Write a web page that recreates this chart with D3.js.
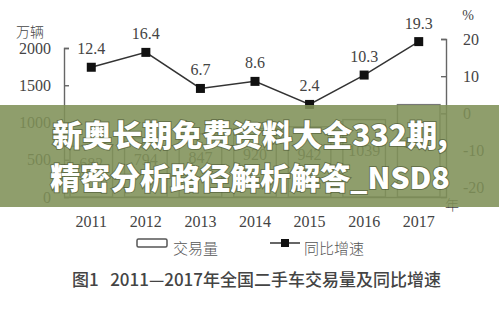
<!DOCTYPE html>
<html>
<head>
<meta charset="utf-8">
<script src="https://cdn.jsdelivr.net/npm/d3@7"></script>
<style>
  body { margin: 0; background: #fff; }
  svg text { font-family: "Liberation Serif", serif; }
  .cjk { font-family: "Noto Sans CJK SC", sans-serif; }
</style>
</head>
<body>
<div id="chart"></div>
<script>
// data
var years = ["2011", "2012", "2013", "2014", "2015", "2016", "2017"];
var volume = [682, 794, 847, 920, 942, 1039, 1240];   // 万辆
var growth = [12.4, 16.4, 6.7, 8.6, 2.4, 10.3, 19.3]; // %
var leftTicks = [0, 500, 1000, 1500, 2000];
var rightTicks = [-20, -10, 0, 10, 20];

var W = 499, H = 314;
var svg = d3.select("#chart").append("svg")
  .attr("width", W).attr("height", H);

var x = d3.scaleBand().domain(years).range([64, 446])
  .paddingInner(0.22).paddingOuter(0.11);
var yL = d3.scaleLinear().domain([0, 2000]).range([197, 48]);
var yR = d3.scaleLinear().domain([-22.5, 20]).range([197, 39]);

var axisColor = "#666";

// bars
svg.selectAll("rect.bar")
  .data(volume)
  .enter()
  .append("rect")
    .attr("class", "bar")
    .attr("x", function(d, i) { return x(years[i]); })
    .attr("y", function(d) { return yL(d); })
    .attr("width", x.bandwidth())
    .attr("height", function(d) { return yL(0) - yL(d); })
    .style("fill", "#fff")
    .style("stroke", "#777")
    .style("stroke-width", 1.4);

svg.selectAll("text.barlab")
  .data(volume)
  .enter()
  .append("text")
    .attr("class", "barlab")
    .attr("x", function(d, i) { return x(years[i]) + x.bandwidth() / 2; })
    .attr("y", function(d) { return yL(d / 2) - 6; })
    .attr("text-anchor", "middle")
    .attr("dominant-baseline", "middle")
    .style("font-size", "16px")
    .style("fill", "#555")
    .text(function(d) { return d; });

// left axis
var gL = svg.append("g").attr("transform", "translate(64,0)")
  .call(d3.axisLeft(yL).tickValues(leftTicks).tickSizeInner(-5).tickSizeOuter(-5).tickPadding(13)
    .tickFormat(function(d) { return String(d); }));
// right axis
var gR = svg.append("g").attr("transform", "translate(446,0)")
  .call(d3.axisRight(yR).tickValues(rightTicks).tickSizeInner(-5).tickSizeOuter(-5).tickPadding(17)
    .tickFormat(function(d) { return String(d); }));
// bottom axis
var gB = svg.append("g").attr("transform", "translate(0,197)")
  .call(d3.axisBottom(x).tickSize(0).tickPadding(19));

[gL, gR, gB].forEach(function(g) {
  g.select(".domain").style("stroke", axisColor).style("stroke-width", 1.4);
  g.selectAll(".tick line").style("stroke", axisColor).style("stroke-width", 1.4);
  g.selectAll(".tick text")
    .style("font-family", "Liberation Serif, serif")
    .style("font-size", "16px")
    .style("fill", "#444");
});
gR.selectAll(".tick text").attr("text-anchor", "start");

// unit labels
svg.append("text").attr("class", "cjk")
  .attr("x", 16).attr("y", 37)
  .style("font-size", "14px").style("font-weight", 300).style("fill", "#444")
  .text("万辆");
svg.append("text")
  .attr("x", 468).attr("y", 20).attr("text-anchor", "middle")
  .style("font-size", "14px").style("fill", "#444")
  .text("%");
svg.append("text").attr("class", "cjk")
  .attr("x", 452).attr("y", 210).attr("text-anchor", "middle")
  .style("font-size", "14px").style("font-weight", 300).style("fill", "#444")
  .text("年");

// growth line
var cx = function(d, i) { return x(years[i]) + x.bandwidth() / 2; };
var line = d3.line()
  .x(function(d, i) { return cx(d, i); })
  .y(function(d) { return yR(d); });

svg.append("path")
  .datum(growth)
  .attr("d", line)
  .style("fill", "none")
  .style("stroke", "#333")
  .style("stroke-width", 1.5);

svg.selectAll("rect.pt")
  .data(growth)
  .enter()
  .append("rect")
    .attr("class", "pt")
    .attr("x", function(d, i) { return cx(d, i) - 4.5; })
    .attr("y", function(d) { return yR(d) - 4.5; })
    .attr("width", 9).attr("height", 9)
    .style("fill", "#111");

svg.selectAll("text.ptlab")
  .data(growth)
  .enter()
  .append("text")
    .attr("class", "ptlab")
    .attr("x", function(d, i) { return cx(d, i); })
    .attr("y", function(d) { return yR(d) - 13; })
    .attr("text-anchor", "middle")
    .style("font-size", "16px")
    .style("fill", "#444")
    .text(function(d) { return d.toFixed(1); });

// legend
svg.append("rect")
  .attr("x", 137).attr("y", 239).attr("width", 30).attr("height", 8).attr("rx", 1.5)
  .style("fill", "#fff").style("stroke", "#555").style("stroke-width", 1.5);
svg.append("text").attr("class", "cjk")
  .attr("x", 173).attr("y", 254)
  .style("font-size", "15px").style("font-weight", 300).style("fill", "#555")
  .text("交易量");
svg.append("line")
  .attr("x1", 270).attr("x2", 300).attr("y1", 243).attr("y2", 243)
  .style("stroke", "#333").style("stroke-width", 1.5);
svg.append("rect")
  .attr("x", 281).attr("y", 239).attr("width", 8).attr("height", 8)
  .style("fill", "#111");
svg.append("text").attr("class", "cjk")
  .attr("x", 304).attr("y", 254)
  .style("font-size", "15px").style("font-weight", 300).style("fill", "#555")
  .text("同比增速");

// caption
svg.append("text").attr("class", "cjk")
  .attr("x", 72).attr("y", 286)
  .style("font-size", "17px").style("font-weight", 500).style("fill", "#444")
  .text("图1\u00a0\u00a0\u00a02011—2017年全国二手车交易量及同比增速");

// overlay banner
svg.append("rect")
  .attr("x", 0).attr("y", 105).attr("width", W).attr("height", 102)
  .style("fill", "#7f9158").style("opacity", 0.88);

var banner = ["新奥长期免费资料大全332期,", "精密分析路径解析解答_NSD8"];
svg.selectAll("text.banner")
  .data(banner)
  .enter()
  .append("text")
    .attr("class", "banner cjk")
    .attr("x", 250)
    .attr("y", function(d, i) { return 146 + i * 43; })
    .attr("text-anchor", "middle")
    .style("font-size", "30px")
    .style("font-weight", 900)
    .style("fill", "#fff")
    .style("paint-order", "stroke")
    .style("stroke", "rgba(60,70,40,0.5)")
    .style("stroke-width", 2)
    .text(function(d) { return d; });
</script>
</body>
</html>
